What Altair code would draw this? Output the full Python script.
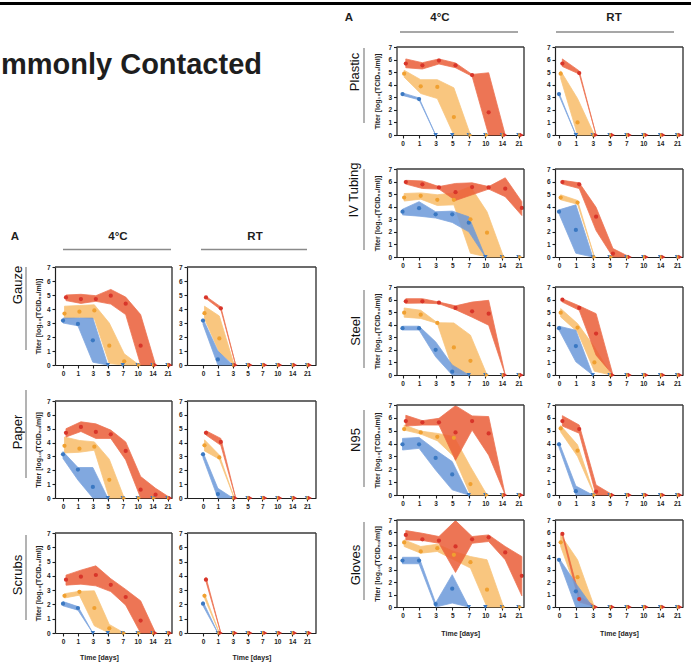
import altair as alt
import pandas as pd

FONT = "Liberation Sans"
W, H = 691, 667

DAY_LABELS = ["0", "1", "3", "5", "7", "10", "14", "21"]
SERIES = ["b", "y", "r"]

# ---------------- data (titer, log10 TCID50/ml) ----------------
# Gauze 4°C
GAUZE_4C_B = [3.17, 2.93, 1.76, 0, 0, 0, 0, 0]
GAUZE_4C_B_LO = [3.0, 2.8, 0.2, 0]
GAUZE_4C_B_HI = [3.35, 3.35, 3.35, 0]
GAUZE_4C_Y = [3.67, 3.81, 3.9, 1.38, 0.26, 0, 0, 0]
GAUZE_4C_Y_LO = [3.3, 3.4, 3.3, 0.1, 0, 0]
GAUZE_4C_Y_HI = [4.2, 4.25, 4.3, 3.0, 0.8, 0]
GAUZE_4C_R = [4.83, 4.71, 4.71, 4.95, 4.38, 1.38, 0, 0]
GAUZE_4C_R_LO = [4.6, 4.4, 4.55, 4.35, 3.6, 0, 0]
GAUZE_4C_R_HI = [5.0, 5.05, 4.95, 5.4, 4.85, 3.6, 0]
# Gauze RT
GAUZE_RT_B = [3.17, 0.4, 0, 0, 0, 0, 0, 0]
GAUZE_RT_B_LO = [2.9, 0.0, 0]
GAUZE_RT_B_HI = [3.3, 1.0, 0]
GAUZE_RT_Y = [3.7, 1.9, 0, 0, 0, 0, 0, 0]
GAUZE_RT_Y_LO = [3.3, 0.9, 0]
GAUZE_RT_Y_HI = [4.2, 3.5, 0]
GAUZE_RT_R = [4.83, 4.05, 0, 0, 0, 0, 0, 0]
GAUZE_RT_R_LO = [4.75, 3.95, 0]
GAUZE_RT_R_HI = [4.9, 4.15, 0]
# Paper 4°C
PAPER_4C_B = [3.15, 2.05, 0.8, 0, 0, 0, 0, 0]
PAPER_4C_B_LO = [2.85, 1.3, 0, 0]
PAPER_4C_B_HI = [3.35, 2.2, 2.2, 0]
PAPER_4C_Y = [3.77, 3.56, 3.7, 1.31, 0, 0, 0, 0]
PAPER_4C_Y_LO = [3.25, 3.3, 3.45, 0, 0]
PAPER_4C_Y_HI = [4.4, 4.15, 4.05, 2.8, 0]
PAPER_4C_R = [4.7, 5.13, 4.77, 4.6, 3.4, 0.6, 0.24, 0]
PAPER_4C_R_LO = [4.4, 4.8, 4.3, 4.3, 2.75, 0, 0, 0]
PAPER_4C_R_HI = [5.0, 5.5, 5.35, 4.9, 4.05, 1.55, 0.7, 0]
# Paper RT
PAPER_RT_B = [3.15, 0.28, 0, 0, 0, 0, 0, 0]
PAPER_RT_B_LO = [2.9, 0, 0]
PAPER_RT_B_HI = [3.3, 0.7, 0]
PAPER_RT_Y = [3.8, 2.93, 0, 0, 0, 0, 0, 0]
PAPER_RT_Y_LO = [3.4, 2.8, 0]
PAPER_RT_Y_HI = [4.2, 3.1, 0]
PAPER_RT_R = [4.7, 4.05, 0, 0, 0, 0, 0, 0]
PAPER_RT_R_LO = [4.55, 3.8, 0]
PAPER_RT_R_HI = [4.85, 4.3, 0]
# Scrubs 4°C
SCRUBS_4C_B = [2.05, 1.75, 0, 0, 0, 0, 0, 0]
SCRUBS_4C_B_LO = [1.9, 1.6, 0]
SCRUBS_4C_B_HI = [2.2, 1.85, 0]
SCRUBS_4C_Y = [2.6, 2.88, 1.75, 0.33, 0, 0, 0, 0]
SCRUBS_4C_Y_LO = [2.45, 2.65, 0.5, 0, 0]
SCRUBS_4C_Y_HI = [2.75, 2.92, 2.95, 0.6, 0]
SCRUBS_4C_R = [3.73, 3.94, 4.06, 3.37, 2.52, 0.87, 0, 0]
SCRUBS_4C_R_LO = [3.35, 3.42, 3.3, 2.9, 1.95, 0, 0]
SCRUBS_4C_R_HI = [4.05, 4.4, 4.7, 3.8, 3.05, 2.25, 0]
# Scrubs RT
SCRUBS_RT_B = [2.05, 0, 0, 0, 0, 0, 0, 0]
SCRUBS_RT_B_LO = [1.9, 0]
SCRUBS_RT_B_HI = [2.2, 0]
SCRUBS_RT_Y = [2.6, 0, 0, 0, 0, 0, 0, 0]
SCRUBS_RT_Y_LO = [2.45, 0]
SCRUBS_RT_Y_HI = [2.75, 0]
SCRUBS_RT_R = [3.73, 0, 0, 0, 0, 0, 0, 0]
SCRUBS_RT_R_LO = [3.6, 0]
SCRUBS_RT_R_HI = [3.9, 0]
# Plastic 4°C
PLASTIC_4C_B = [3.26, 2.86, 0, 0, 0, 0, 0, 0]
PLASTIC_4C_B_LO = [3.15, 2.8, 0]
PLASTIC_4C_B_HI = [3.35, 2.95, 0]
PLASTIC_4C_Y = [4.88, 3.87, 3.82, 1.43, 0, 0, 0, 0]
PLASTIC_4C_Y_LO = [4.6, 3.3, 2.9, 0, 0]
PLASTIC_4C_Y_HI = [5.15, 4.4, 4.4, 3.75, 0]
PLASTIC_4C_R = [5.68, 5.54, 5.92, 5.54, 4.77, 1.8, 0, 0]
PLASTIC_4C_R_LO = [5.35, 5.25, 5.65, 5.35, 4.67, 0, 0]
PLASTIC_4C_R_HI = [6.05, 5.75, 6.05, 5.73, 4.82, 4.95, 0]
# Plastic RT
PLASTIC_RT_B = [3.26, 0, 0, 0, 0, 0, 0, 0]
PLASTIC_RT_B_LO = [3.15, 0]
PLASTIC_RT_B_HI = [3.35, 0]
PLASTIC_RT_Y = [4.88, 1.0, 0, 0, 0, 0, 0, 0]
PLASTIC_RT_Y_LO = [4.5, 0, 0]
PLASTIC_RT_Y_HI = [5.1, 2.9, 0]
PLASTIC_RT_R = [5.68, 4.93, 0, 0, 0, 0, 0, 0]
PLASTIC_RT_R_LO = [5.45, 4.85, 0]
PLASTIC_RT_R_HI = [6.05, 5.1, 0]
# IV Tubing 4°C
IV_4C_B = [3.6, 3.88, 3.4, 3.4, 2.73, 0, 0, 0]
IV_4C_B_LO = [3.35, 3.25, 3.1, 2.75, 2.0, 0]
IV_4C_B_HI = [3.8, 4.4, 3.6, 3.65, 3.2, 0]
IV_4C_Y = [4.73, 4.87, 4.55, 4.55, 3.0, 1.93, 0, 0]
IV_4C_Y_LO = [4.45, 4.6, 4.1, 4.15, 0.3, 0, 0]
IV_4C_Y_HI = [5.05, 5.1, 4.95, 5.1, 5.6, 3.6, 0]
IV_4C_R = [5.96, 5.78, 5.53, 5.16, 5.56, 5.53, 5.43, 3.9]
IV_4C_R_LO = [5.8, 5.45, 5.4, 4.5, 4.95, 5.4, 4.8, 3.3]
IV_4C_R_HI = [6.1, 6.05, 5.6, 5.85, 5.9, 5.6, 6.3, 4.4]
# IV Tubing RT
IV_RT_B = [3.6, 2.15, 0, 0, 0, 0, 0, 0]
IV_RT_B_LO = [3.45, 0.3, 0]
IV_RT_B_HI = [3.75, 4.15, 0]
IV_RT_Y = [4.73, 4.33, 0, 0, 0, 0, 0, 0]
IV_RT_Y_LO = [4.55, 4.2, 0]
IV_RT_Y_HI = [4.95, 4.5, 0]
IV_RT_R = [5.96, 5.78, 3.21, 0.27, 0, 0, 0, 0]
IV_RT_R_LO = [5.8, 5.45, 2.1, 0, 0]
IV_RT_R_HI = [6.1, 5.9, 3.95, 0.67, 0]
# Steel 4°C
STEEL_4C_B = [3.72, 3.72, 2.0, 0.26, 0, 0, 0, 0]
STEEL_4C_B_LO = [3.58, 3.58, 1.45, 0, 0]
STEEL_4C_B_HI = [3.88, 3.88, 2.64, 0.8, 0]
STEEL_4C_Y = [4.96, 4.8, 4.14, 2.19, 1.13, 0, 0, 0]
STEEL_4C_Y_LO = [4.6, 4.5, 4.1, 0.2, 0, 0]
STEEL_4C_Y_HI = [5.33, 5.15, 4.16, 4.14, 3.17, 0]
STEEL_4C_R = [5.86, 5.86, 5.75, 5.33, 5.07, 4.88, 0, 0]
STEEL_4C_R_LO = [5.7, 5.72, 5.67, 5.2, 4.6, 3.96, 0]
STEEL_4C_R_HI = [6.07, 6.07, 5.8, 5.5, 5.8, 5.94, 0]
# Steel RT
STEEL_RT_B = [3.72, 2.3, 0, 0, 0, 0, 0, 0]
STEEL_RT_B_LO = [3.58, 1.05, 0]
STEEL_RT_B_HI = [3.88, 3.56, 0]
STEEL_RT_Y = [4.96, 3.77, 1.0, 0, 0, 0, 0, 0]
STEEL_RT_Y_LO = [4.62, 3.43, 0.3, 0]
STEEL_RT_Y_HI = [5.28, 4.09, 2.24, 0]
STEEL_RT_R = [5.99, 5.33, 3.3, 0, 0, 0, 0, 0]
STEEL_RT_R_LO = [5.8, 5.15, 1.58, 0]
STEEL_RT_R_HI = [6.07, 5.5, 4.88, 0]
# N95 4°C
N95_4C_B = [3.94, 3.94, 2.88, 1.6, 0, 0, 0, 0]
N95_4C_B_LO = [3.5, 3.63, 1.94, 0.4, 0]
N95_4C_B_HI = [4.4, 4.48, 3.5, 2.6, 0]
N95_4C_Y = [5.13, 4.87, 4.53, 4.45, 0.85, 0, 0, 0]
N95_4C_Y_LO = [5.05, 4.74, 4.22, 3.0, 0, 0]
N95_4C_Y_HI = [5.44, 4.97, 4.79, 4.55, 2.2, 0]
N95_4C_R = [5.75, 5.65, 5.65, 4.87, 5.75, 4.79, 0, 0]
N95_4C_R_LO = [5.36, 5.44, 5.44, 2.7, 5.05, 3.1, 0]
N95_4C_R_HI = [6.2, 5.78, 5.96, 6.95, 6.15, 6.1, 0]
# N95 RT
N95_RT_B = [3.94, 0.3, 0, 0, 0, 0, 0, 0]
N95_RT_B_LO = [3.7, 0, 0]
N95_RT_B_HI = [4.1, 0.7, 0]
N95_RT_Y = [5.18, 3.45, 0, 0, 0, 0, 0, 0]
N95_RT_Y_LO = [4.9, 3.0, 0]
N95_RT_Y_HI = [5.4, 3.9, 0]
N95_RT_R = [5.75, 5.13, 0.26, 0, 0, 0, 0, 0]
N95_RT_R_LO = [5.36, 4.8, 0, 0]
N95_RT_R_HI = [6.17, 5.44, 0.78, 0]
# Gloves 4°C
GLOVES_4C_B = [3.74, 3.74, 0.24, 1.47, 0, 0, 0, 0]
GLOVES_4C_B_LO = [3.48, 3.48, 0, 0.32, 0]
GLOVES_4C_B_HI = [4.0, 4.0, 0.32, 2.6, 0]
GLOVES_4C_Y = [5.19, 4.47, 4.73, 4.2, 3.61, 1.39, 0, 0]
GLOVES_4C_Y_LO = [4.87, 4.33, 4.47, 3.8, 3.13, 0, 0]
GLOVES_4C_Y_HI = [5.4, 4.87, 5.05, 4.47, 4.06, 3.8, 0]
GLOVES_4C_R = [5.8, 5.45, 5.35, 4.87, 5.45, 5.61, 4.39, 2.51]
GLOVES_4C_R_LO = [5.4, 5.35, 5.13, 2.78, 5.13, 5.27, 3.8, 0.9]
GLOVES_4C_R_HI = [6.15, 5.93, 5.67, 6.95, 5.67, 5.8, 4.87, 4.06]
# Gloves RT
GLOVES_RT_B = [3.8, 1.26, 0, 0, 0, 0, 0, 0]
GLOVES_RT_B_LO = [3.7, 0, 0]
GLOVES_RT_B_HI = [3.93, 1.9, 0]
GLOVES_RT_Y = [5.2, 2.4, 0, 0, 0, 0, 0, 0]
GLOVES_RT_Y_LO = [4.87, 1.1, 0]
GLOVES_RT_Y_HI = [5.8, 3.8, 0]
GLOVES_RT_R = [5.88, 0.64, 0, 0, 0, 0, 0, 0]
GLOVES_RT_R_LO = [5.75, 0.4, 0]
GLOVES_RT_R_HI = [6.0, 0.9, 0]

PANELS = [
    ("Gauze", "4°C", [(GAUZE_4C_B, GAUZE_4C_B_LO, GAUZE_4C_B_HI), (GAUZE_4C_Y, GAUZE_4C_Y_LO, GAUZE_4C_Y_HI), (GAUZE_4C_R, GAUZE_4C_R_LO, GAUZE_4C_R_HI)]),
    ("Gauze", "RT", [(GAUZE_RT_B, GAUZE_RT_B_LO, GAUZE_RT_B_HI), (GAUZE_RT_Y, GAUZE_RT_Y_LO, GAUZE_RT_Y_HI), (GAUZE_RT_R, GAUZE_RT_R_LO, GAUZE_RT_R_HI)]),
    ("Paper", "4°C", [(PAPER_4C_B, PAPER_4C_B_LO, PAPER_4C_B_HI), (PAPER_4C_Y, PAPER_4C_Y_LO, PAPER_4C_Y_HI), (PAPER_4C_R, PAPER_4C_R_LO, PAPER_4C_R_HI)]),
    ("Paper", "RT", [(PAPER_RT_B, PAPER_RT_B_LO, PAPER_RT_B_HI), (PAPER_RT_Y, PAPER_RT_Y_LO, PAPER_RT_Y_HI), (PAPER_RT_R, PAPER_RT_R_LO, PAPER_RT_R_HI)]),
    ("Scrubs", "4°C", [(SCRUBS_4C_B, SCRUBS_4C_B_LO, SCRUBS_4C_B_HI), (SCRUBS_4C_Y, SCRUBS_4C_Y_LO, SCRUBS_4C_Y_HI), (SCRUBS_4C_R, SCRUBS_4C_R_LO, SCRUBS_4C_R_HI)]),
    ("Scrubs", "RT", [(SCRUBS_RT_B, SCRUBS_RT_B_LO, SCRUBS_RT_B_HI), (SCRUBS_RT_Y, SCRUBS_RT_Y_LO, SCRUBS_RT_Y_HI), (SCRUBS_RT_R, SCRUBS_RT_R_LO, SCRUBS_RT_R_HI)]),
    ("Plastic", "4°C", [(PLASTIC_4C_B, PLASTIC_4C_B_LO, PLASTIC_4C_B_HI), (PLASTIC_4C_Y, PLASTIC_4C_Y_LO, PLASTIC_4C_Y_HI), (PLASTIC_4C_R, PLASTIC_4C_R_LO, PLASTIC_4C_R_HI)]),
    ("Plastic", "RT", [(PLASTIC_RT_B, PLASTIC_RT_B_LO, PLASTIC_RT_B_HI), (PLASTIC_RT_Y, PLASTIC_RT_Y_LO, PLASTIC_RT_Y_HI), (PLASTIC_RT_R, PLASTIC_RT_R_LO, PLASTIC_RT_R_HI)]),
    ("IV Tubing", "4°C", [(IV_4C_B, IV_4C_B_LO, IV_4C_B_HI), (IV_4C_Y, IV_4C_Y_LO, IV_4C_Y_HI), (IV_4C_R, IV_4C_R_LO, IV_4C_R_HI)]),
    ("IV Tubing", "RT", [(IV_RT_B, IV_RT_B_LO, IV_RT_B_HI), (IV_RT_Y, IV_RT_Y_LO, IV_RT_Y_HI), (IV_RT_R, IV_RT_R_LO, IV_RT_R_HI)]),
    ("Steel", "4°C", [(STEEL_4C_B, STEEL_4C_B_LO, STEEL_4C_B_HI), (STEEL_4C_Y, STEEL_4C_Y_LO, STEEL_4C_Y_HI), (STEEL_4C_R, STEEL_4C_R_LO, STEEL_4C_R_HI)]),
    ("Steel", "RT", [(STEEL_RT_B, STEEL_RT_B_LO, STEEL_RT_B_HI), (STEEL_RT_Y, STEEL_RT_Y_LO, STEEL_RT_Y_HI), (STEEL_RT_R, STEEL_RT_R_LO, STEEL_RT_R_HI)]),
    ("N95", "4°C", [(N95_4C_B, N95_4C_B_LO, N95_4C_B_HI), (N95_4C_Y, N95_4C_Y_LO, N95_4C_Y_HI), (N95_4C_R, N95_4C_R_LO, N95_4C_R_HI)]),
    ("N95", "RT", [(N95_RT_B, N95_RT_B_LO, N95_RT_B_HI), (N95_RT_Y, N95_RT_Y_LO, N95_RT_Y_HI), (N95_RT_R, N95_RT_R_LO, N95_RT_R_HI)]),
    ("Gloves", "4°C", [(GLOVES_4C_B, GLOVES_4C_B_LO, GLOVES_4C_B_HI), (GLOVES_4C_Y, GLOVES_4C_Y_LO, GLOVES_4C_Y_HI), (GLOVES_4C_R, GLOVES_4C_R_LO, GLOVES_4C_R_HI)]),
    ("Gloves", "RT", [(GLOVES_RT_B, GLOVES_RT_B_LO, GLOVES_RT_B_HI), (GLOVES_RT_Y, GLOVES_RT_Y_LO, GLOVES_RT_Y_HI), (GLOVES_RT_R, GLOVES_RT_R_LO, GLOVES_RT_R_HI)]),
]

# ---------------- layout (pixels) ----------------
LEFT_SURF = ["Gauze", "Paper", "Scrubs"]
# column: (axis x, right edge x, first tick x, last tick x)
LEFT_X = {"4°C": (55, 172, 63, 167.5), "RT": (187, 316, 203, 307)}
RIGHT_X = {"4°C": (396.5, 524, 402.5, 518.5), "RT": (555, 683, 559, 677)}
# row: (y of 0, y of 7)
ROW_Y = {"Gauze": (365, 267), "Paper": (498, 401), "Scrubs": (633, 533),
         "Plastic": (135, 47), "IV Tubing": (257, 169), "Steel": (375, 287),
         "N95": (495, 405), "Gloves": (607, 520)}
BOTTOM = {"Scrubs", "Gloves"}

BAND = {"b": "#6c99da", "y": "#f8bd69", "r": "#eb5e38"}
DOT = {"b": "#3a78c2", "y": "#f0a030", "r": "#d8352a"}
INK = "#1e1e1e"

rows = []
for surf, temp, triples in PANELS:
    for s, (mean, lo, hi) in zip(SERIES, triples):
        for i in range(len(DAY_LABELS)):
            rows.append({
                "panel": f"{surf}|{temp}", "s": s, "i": i, "mean": mean[i],
                "lo": lo[i] if i < len(lo) else None,
                "hi": hi[i] if i < len(hi) else None,
            })
df = pd.DataFrame(rows)

LABEL_EXPR = "[" + ",".join(f"'{d}'" for d in DAY_LABELS) + "][datum.value]"
ONE = pd.DataFrame({"k": [0]})


def panel(surf, temp):
    left = surf in LEFT_SURF
    ax, rx, t0, t7 = (LEFT_X if left else RIGHT_X)[temp]
    unit = (t7 - t0) / 7.0
    xdom = [(ax - t0) / unit, 7 + (rx - t7) / unit]
    y0, y7 = ROW_Y[surf]
    xscale = alt.Scale(domain=xdom, range=[ax, rx], nice=False, zero=False)
    yscale = alt.Scale(domain=[0, 7], range=[y0, y7], nice=False, zero=False)
    xkw = dict(orient="bottom", offset=y0 - H, values=list(range(8)), labelExpr=LABEL_EXPR)
    if surf in BOTTOM:
        xkw.update(title="Time [days]", titlePadding=8.5 if left else 10.5)
        if left and temp == "4°C":
            xkw.update(titleX=99)
    else:
        xkw.update(title=None)
    ykw = dict(orient="left", offset=-ax, values=list(range(8)))
    if temp == "4°C":
        ykw.update(title="Titer [log₁₀(TCID₅₀/ml)]", titlePadding=4.5 if left else 7)
    else:
        ykw.update(title=None)
    xaxis = alt.Axis(**xkw)
    yaxis = alt.Axis(**ykw)
    X = alt.X("xp:Q", scale=xscale, axis=xaxis)

    base = alt.Chart(df).transform_filter(
        alt.datum.panel == f"{surf}|{temp}"
    ).transform_calculate(
        xp="datum.i + (datum.s == 'y' ? 0.1 : (datum.s == 'r' ? 0.2 : 0))"
    )
    layers = []
    for s in ["y", "r", "b"]:
        layers.append(
            base.transform_filter(f"datum.s == '{s}' && isValid(datum.lo)")
            .mark_area(orient="vertical", color=BAND[s], opacity=0.85, stroke=BAND[s], strokeWidth=0.8)
            .encode(x=X, y=alt.Y("lo:Q", scale=yscale, axis=yaxis, stack=None), y2="hi:Q")
        )
    color = alt.Color("s:N", scale=alt.Scale(domain=SERIES, range=[DOT[s] for s in SERIES]), legend=None)
    layers.append(
        base.transform_filter("datum.mean > 0").mark_circle(size=18, opacity=1)
        .encode(x=X, y=alt.Y("mean:Q", scale=yscale, axis=yaxis), color=color)
    )
    layers.append(
        base.transform_filter("datum.mean == 0").mark_point(filled=True, size=20, opacity=1)
        .encode(x=X, y=alt.Y("mean:Q", scale=yscale, axis=yaxis), color=color,
                shape=alt.Shape("s:N", scale=alt.Scale(domain=SERIES, range=["triangle-down", "triangle-right", "triangle-right"]), legend=None))
    )
    frame = alt.Chart(ONE)
    layers.append(
        frame.mark_rule(color="#3a3a3a", strokeWidth=1.4).encode(
            x=alt.XDatum(xdom[0], scale=xscale, axis=xaxis), x2=alt.X2Datum(xdom[1]),
            y=alt.YDatum(7, scale=yscale, axis=yaxis))
    )
    layers.append(
        frame.mark_rule(color="#3a3a3a", strokeWidth=1.4).encode(
            x=alt.XDatum(xdom[1], scale=xscale, axis=xaxis),
            y=alt.YDatum(0, scale=yscale, axis=yaxis), y2=alt.Y2Datum(7))
    )
    return alt.layer(*layers)


def txt(t, x, y, size, weight="bold", angle=0, align="center", baseline="middle", color=INK):
    return alt.Chart(ONE).mark_text(
        text=t, fontSize=size, fontWeight=weight, angle=angle, align=align,
        baseline=baseline, font=FONT, color=color
    ).encode(x=alt.value(x), y=alt.value(y))


def hline(x1, x2, y, color="#8a8a8a", w=1.3):
    return alt.Chart(ONE).mark_rule(color=color, strokeWidth=w).encode(
        x=alt.value(x1), x2=alt.value(x2), y=alt.value(y))


def vline(x, y1, y2, color="#8a8a8a", w=1.3):
    return alt.Chart(ONE).mark_rule(color=color, strokeWidth=w).encode(
        x=alt.value(x), y=alt.value(y1), y2=alt.value(y2))


panels = [panel(surf, temp) for surf, temp, _ in PANELS]

deco = [
    hline(0, W, 3.5, color="#000000", w=3),
    txt("mmonly Contacted", 262, 74, 29, align="right", baseline="alphabetic"),
    # left block headers
    txt("A", 15, 237, 11.5),
    txt("4°C", 118, 237, 11.5),
    hline(63, 171, 249.5),
    txt("RT", 255, 237, 11.5),
    hline(201, 307, 249.5),
    # right block headers
    txt("A", 349, 18, 11.5),
    txt("4°C", 440, 18, 11.5),
    hline(400, 518, 32),
    txt("RT", 614, 18, 11.5),
    hline(556, 674, 32),
]
ROW_LABEL = {"Gauze": (18, 285, 26, 267, 350), "Paper": (18, 432, 26, 390, 478),
             "Scrubs": (18, 575, 26, 535, 620), "Plastic": (355, 72, 364, 48, 123),
             "IV Tubing": (354, 190, 364, 169, 250), "Steel": (356, 331, 364, 290, 368),
             "N95": (356, 440, 364, 410, 487), "Gloves": (356, 565, 364, 522, 600)}
for name, (tx, ty, lx, ly1, ly2) in ROW_LABEL.items():
    deco.append(txt(name, tx, ty, 13, weight="normal", angle=270, color="#111111"))
    deco.append(vline(lx, ly1, ly2))

chart = alt.layer(*panels, *deco).resolve_scale(
    x="independent", y="independent", color="shared", shape="shared"
).resolve_axis(x="independent", y="independent").properties(
    width=W, height=H, autosize=alt.AutoSizeParams(type="none"), padding=0
).configure_view(stroke="transparent").configure_axis(
    grid=False, domainColor=INK, domainWidth=1.2, tickColor=INK, tickSize=3, tickWidth=1.1,
    labelFont=FONT, labelFontSize=6.5, labelFontWeight="bold", labelColor=INK, labelPadding=2,
    labelFlush=False, labelOverlap=False, minExtent=0,
    titleFont=FONT, titleFontSize=7, titleFontWeight="bold", titleColor=INK
)

chart.save("out.html", embed_options={"renderer": "svg", "actions": False})
